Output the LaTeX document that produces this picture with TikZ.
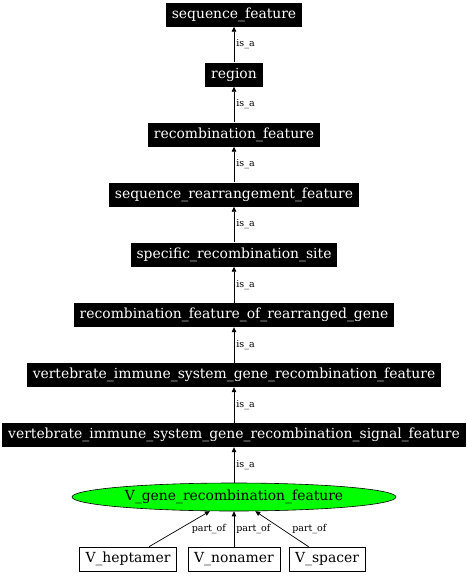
\documentclass[tikz,border=0pt]{standalone}
\usepackage{fontspec}
\setmainfont{DejaVu Serif}
\usetikzlibrary{shapes.geometric,arrows.meta}
\begin{document}
\begin{tikzpicture}[x=1pt,y=-1pt,
  term/.style={fill=black,text=white,font=\fontsize{13.9}{16}\selectfont,inner xsep=6pt,inner ysep=0pt,minimum height=24pt},
  leaf/.style={draw=black,fill=white,line width=0.6pt,font=\fontsize{13.9}{16}\selectfont,inner xsep=6pt,inner ysep=0pt,minimum height=24pt},
  focus/.style={ellipse,draw=black,fill=green,line width=0.6pt,font=\fontsize{13.9}{16}\selectfont,minimum width=324pt,minimum height=28pt,inner sep=0pt},
  rel/.style={draw=black,line width=0.7pt,-{Triangle[length=5pt,width=4.5pt]}},
  lab/.style={font=\fontsize{9.5}{11}\selectfont,anchor=west,inner sep=1pt}]
\useasboundingbox (0,0) rectangle (468,576);
\node[term] (sf) at (234,14.5) {sequence\_feature};
\node[term] (rg) at (234,74.5) {region};
\node[term] (rf) at (234,134.5) {recombination\_feature};
\node[term] (srf) at (234,194.5) {sequence\_rearrangement\_feature};
\node[term] (srs) at (234,254.5) {specific\_recombination\_site};
\node[term] (rfrg) at (234,315) {recombination\_feature\_of\_rearranged\_gene};
\node[term] (vis) at (234,375) {vertebrate\_immune\_system\_gene\_recombination\_feature};
\node[term] (viss) at (234,435) {vertebrate\_immune\_system\_gene\_recombination\_signal\_feature};
\node[focus] (vg) at (234,497) {V\_gene\_recombination\_feature};
\node[leaf] (hep) at (128,559) {V\_heptamer};
\node[leaf] (non) at (234,559) {V\_nonamer};
\node[leaf] (spa) at (327,559) {V\_spacer};
\draw[rel] (rg) -- node[lab,xshift=1pt]{is\_a} (sf);
\draw[rel] (rf) -- node[lab,xshift=1pt]{is\_a} (rg);
\draw[rel] (srf) -- node[lab,xshift=1pt]{is\_a} (rf);
\draw[rel] (srs) -- node[lab,xshift=1pt]{is\_a} (srf);
\draw[rel] (rfrg) -- node[lab,xshift=1pt]{is\_a} (srs);
\draw[rel] (vis) -- node[lab,xshift=1pt]{is\_a} (rfrg);
\draw[rel] (viss) -- node[lab,xshift=1pt]{is\_a} (vis);
\draw[rel] (vg) -- node[lab,xshift=1pt]{is\_a} (viss);
\draw[rel] (hep) -- node[lab,xshift=11pt]{part\_of} (vg);
\draw[rel] (non) -- node[lab,xshift=1pt]{part\_of} (vg);
\draw[rel] (spa) -- node[lab,xshift=9pt]{part\_of} (vg);
\end{tikzpicture}
\end{document}
